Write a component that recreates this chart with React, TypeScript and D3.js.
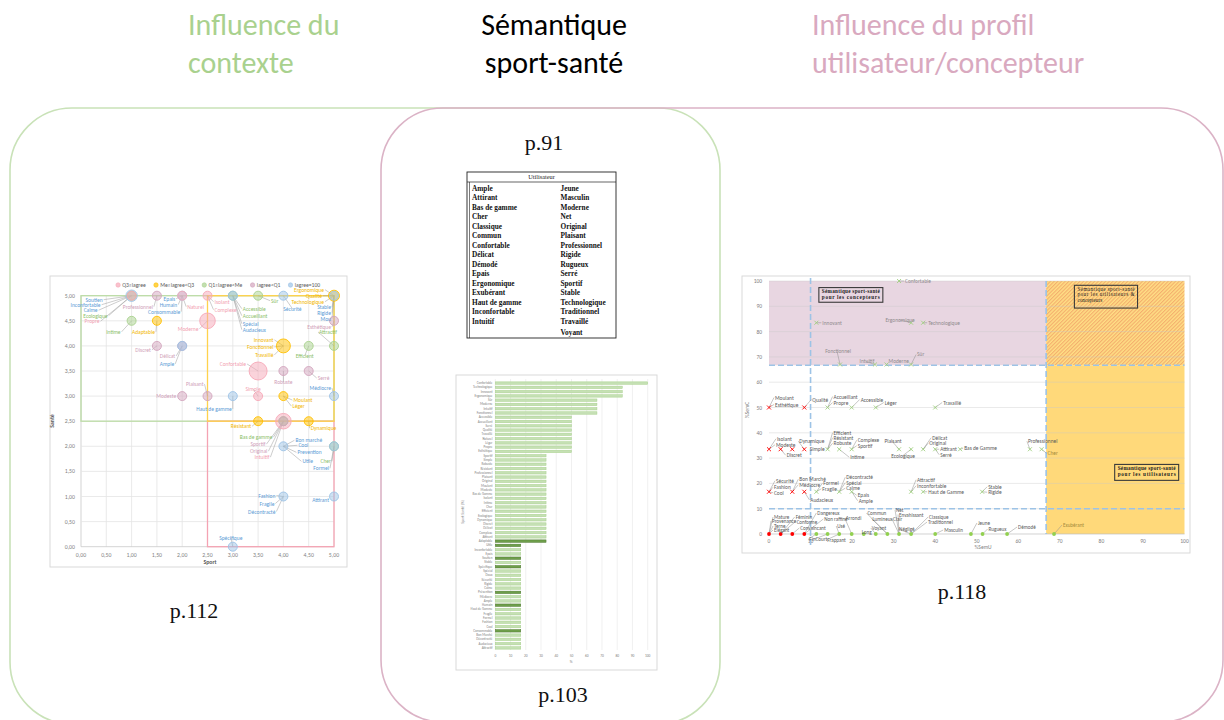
import React, { useEffect, useRef } from "react";
import * as d3 from "d3";

// ---- p.112 : nuage Sport / Santé (influence du contexte)
const classes = ["Q3≤lagree", "Me≤lagree<Q3", "Q1≤lagree<Me", "lagree<Q1", "lagree=100"];
const classColors = ["#f6a8b8", "#ffc000", "#a9d18e", "#d3a5bd", "#9dc3e6"];
const classText = ["#f29fb1", "#f2b600", "#8cc06a", "#d0a0b8", "#5b9bd5"];

// [mot, sport, santé, classe]
const scatterWords = [
  ["Soutien", 1, 5, 4], ["Inconfortable", 1, 5, 4], ["Calme", 1, 5, 4], ["Ecologique", 1, 5, 2], ["Propre", 1, 5, 0],
  ["Professionnel", 1.5, 5, 3],
  ["Epais", 2, 5, 4], ["Humain", 2, 5, 4], ["Consommable", 2, 5, 4], ["Naturel", 2, 5, 0],
  ["Isolant", 2.5, 5, 0], ["Complexe", 2.5, 5, 0],
  ["Accessible", 3, 5, 2], ["Accueillant", 3, 5, 2], ["Spécial", 3, 5, 4], ["Audacieux", 3, 5, 4],
  ["Sûr", 3.5, 5, 2], ["Sécurité", 4, 5, 4],
  ["Ergonomique", 5, 5, 1], ["Qualité", 5, 5, 1], ["Technologique", 5, 5, 1],
  ["Stable", 5, 5, 4], ["Rigide", 5, 5, 4], ["Mou", 5, 5, 4],
  ["Intime", 1, 4.5, 2], ["Adaptable", 1.5, 4.5, 1], ["Moderne", 2.5, 4.5, 0],
  ["Esthétique", 5, 4.5, 3], ["Attractif", 5, 4, 2],
  ["Discret", 1.5, 4, 3], ["Délicat", 2, 4, 3], ["Ample", 2, 4, 4],
  ["Innovant", 4, 4, 1], ["Fonctionnel", 4, 4, 1], ["Travaillé", 4, 4, 1], ["Efficient", 4.5, 4, 2],
  ["Confortable", 3.5, 3.5, 0], ["Robuste", 4, 3.5, 3], ["Serré", 4.5, 3.5, 3],
  ["Modeste", 2, 3, 3], ["Plaisant", 2.5, 3, 3], ["Haut de gamme", 3, 3, 4], ["Simple", 3.5, 3, 0],
  ["Moulant", 4, 3, 1], ["Léger", 4, 3, 1], ["Médiocre", 5, 3, 4],
  ["Résistant", 3.5, 2.5, 1], ["Bas de gamme", 4, 2.5, 2], ["Sportif", 4, 2.5, 3], ["Original", 4, 2.5, 3],
  ["Intuitif", 4, 2.5, 0], ["Dynamique", 4.5, 2.5, 1],
  ["Bon marché", 4, 2, 4], ["Cool", 4, 2, 4], ["Prevention", 4, 2, 4], ["Utile", 4, 2, 4],
  ["Cher", 5, 2, 2], ["Formel", 5, 2, 4],
  ["Fashion", 4, 1, 4], ["Fragile", 4, 1, 4], ["Décontracté", 4, 1, 4], ["Attirant", 5, 1, 4],
  ["Spécifique", 3, 0, 4],
];

// bulles plus grosses que 1 : [sport, santé, classe, poids]
const bigBubbles = [
  [1, 5, 4, 1.6], [2.5, 4.5, 0, 3], [3.5, 3.5, 0, 4], [4, 2.5, 0, 3], [4, 4, 1, 2.4], [5, 5, 1, 1.5],
];

// placement des étiquettes (px depuis le centre de la bulle)
const scatterLabelPos = {
  Soutien: [-29, 4], Inconfortable: [-31, 9], Calme: [-34, 14.5], Ecologique: [-24, 20], Propre: [-32, 25.5],
  Professionnel: [-4, 11], Epais: [-7, 3], Humain: [-5, 9], Consommable: [-2, 16], Naturel: [5, 11],
  Isolant: [7, 6], Complexe: [7, 14], Accessible: [10, 13], Accueillant: [10, 20], Spécial: [10, 28], Audacieux: [10, 34],
  Sûr: [13, 5], Sécurité: [9, 13, "middle"], Ergonomique: [-10, -6], Qualité: [-12, 0], Technologique: [-10, 6],
  Stable: [-3, 11.5], Rigide: [-3, 17], Mou: [-3, 23], Intime: [-11, 11], Adaptable: [-2, 11], Moderne: [-9, 8],
  Esthétique: [-3, 6], Attractif: [-15, -14, "start"], Discret: [-6, 4], Délicat: [-7, 10], Ample: [-8, 18],
  Innovant: [-10, -6], Fonctionnel: [-10, 1], Travaillé: [-10, 9], Efficient: [-4, 10, "middle"],
  Confortable: [-12, -7], Robuste: [0, 11, "middle"], Serré: [9, 7], Modeste: [-6, 0], Plaisant: [-4, -12],
  "Haut de gamme": [-1, 13], Simple: [-5, -7, "middle"], Moulant: [10, 4], Léger: [9, 10], Médiocre: [-3, -8],
  Résistant: [-7, 5], "Bas de gamme": [-11, 16], Sportif: [-18, 23], Original: [-16, 30], Intuitif: [-14, 36],
  Dynamique: [2, 7], "Bon marché": [12, -6], Cool: [15, -1], Prevention: [14, 6], Utile: [19, 15],
  Cher: [-3, 15], Formel: [-5, 22], Fashion: [-8, -1], Fragile: [-9, 7], Décontracté: [-8, 15], Attirant: [-5, 3],
  Spécifique: [-2, -9, "middle"],
};

// ---- p.91 : tableau Utilisateur
const tableLeft = ["Ample", "Attirant", "Bas de gamme", "Cher", "Classique", "Commun", "Confortable", "Délicat",
  "Démodé", "Epais", "Ergonomique", "Exubérant", "Haut de gamme", "Inconfortable", "Intuitif"];
const tableRight = ["Jeune", "Masculin", "Moderne", "Net", "Original", "Plaisant", "Professionnel", "Rigide",
  "Rugueux", "Serré", "Sportif", "Stable", "Technologique", "Traditionnel", "Travaillé", "Voyant"];

// ---- p.103 : Sport Santé (%)
const barWords = ["Confortable", "Technologique", "Innovant", "Ergonomique", "Sûr", "Moderne", "Intuitif", "Fonctionnel",
  "Accessible", "Accueillant", "Serré", "Qualité", "Travaillé", "Naturel", "Léger", "Propre", "Esthétique",
  "Sportif", "Simple", "Robuste", "Résistant", "Professionnel", "Plaisant", "Original", "Moulant", "Modeste",
  "Bas de Gamme", "Isolant", "Intime", "Cher", "Efficient", "Ecologique", "Dynamique", "Discret", "Délicat",
  "Complexe", "Attirant", "Adaptable", "Utile", "Inconfortable", "Epais", "Soutien", "Stable", "Spécifique",
  "Spécial", "Doux", "Sécurité", "Rigide", "Calme", "Prévention", "Médiocre", "Ample", "Humain", "Haut de Gamme",
  "Fragile", "Formel", "Fashion", "Cool", "Consommable", "Bon Marché", "Décontracté", "Audacieux", "Attractif"];
const barValues = [100, 83.3, 83.3, 83.3, 66.7, 66.7, 66.7, 66.7,
  50, 50, 50, 50, 50, 50, 50, 50, 50,
  33.3, 33.3, 33.3, 33.3, 33.3, 33.3, 33.3, 33.3, 33.3, 33.3, 33.3, 33.3, 33.3, 33.3, 33.3, 33.3, 33.3, 33.3, 33.3, 33.3, 33.3,
  16.7, 16.7, 16.7, 16.7, 16.7, 16.7, 16.7, 16.7, 16.7, 16.7, 16.7, 16.7, 16.7, 16.7, 16.7, 16.7, 16.7,
  16.7, 16.7, 16.7, 16.7, 16.7, 16.7, 16.7, 16.7];
const barHighlight = ["Adaptable", "Utile", "Soutien", "Spécifique", "Prévention", "Humain", "Consommable"];

// ---- p.118 : %SemU / %SemC
// [%SemU, %SemC, mots...]
const semPoints = [
  [31.3, 100, "Confortable"],
  [11.4, 83.5, "Innovant"], [34.2, 83.5, "Ergonomique"], [37.1, 83.5, "Technologique"],
  [17.1, 67, "Fonctionnel"], [25.5, 67, "Intuitif"], [28.3, 67, "Moderne"], [34.2, 67, "Sûr"],
  [0, 50, "Moulant", "Esthétique"], [8.5, 50, "Qualité"], [14.1, 50, "Accueillant", "Propre"],
  [19.9, 50, "Accessible"], [25.7, 50, "Léger"], [40, 50, "Travaillé"],
  [0, 33.5, "Isolant", "Modeste"], [2.8, 33.5, "Discret"], [5.6, 33.5], [8.5, 33.5, "Dynamique"],
  [14.1, 33.5, "Efficient", "Résistant", "Robuste", "Simple"], [16.9, 33.5, "Intime"],
  [19.9, 33.5, "Complexe", "Sportif"], [31.3, 33.5, "Plaisant"], [34.2, 33.5, "Ecologique"],
  [37.1, 33.5, "Délicat", "Original"], [40, 33.5, "Attirant", "Serré"], [46, 33.5, "Bas de Gamme"],
  [62.8, 33.5, "Professionnel"], [65.6, 33.5, "Cher"],
  [0, 16.7, "Sécurité", "Fashion", "Cool"], [5.6, 16.7, "Bon Marché", "Médiocre"], [8.5, 16.7, "Audacieux"],
  [11.4, 16.7, "Formel", "Fragile"], [16.9, 16.7, "Décontracté", "Spécial", "Calme"], [19.9, 16.7, "Epais", "Ample"],
  [34.2, 16.7, "Attractif", "Inconfortable"], [37.1, 16.7, "Haut de Gamme"], [51.3, 16.7, "Stable", "Rigide"],
  [0, 0, "Mature", "Provenance", "Terne", "Elégant"], [2.8, 0, "Féminin", "Conforme"], [5.6, 0, "Convaincant"],
  [8.5, 0, "Dangereux", "Non raffiné"], [11.4, 0, "Fin"], [14.1, 0, "Court"], [16.9, 0, "Frappant", "Usé"],
  [19.9, 0, "Arrondi"], [22.8, 0, "Long"], [25.7, 0, "Voyant"], [28.5, 0, "Commun", "Lumineux"],
  [31.3, 0, "Net", "Envahissant", "Clair"], [34.2, 0, "Négligé", "Classique", "Traditionnel"], [40, 0, "Masculin"],
  [48.6, 0, "Jeune"], [51.4, 0, "Rugueux"], [57.3, 0, "Démodé"], [68.6, 0, "Exubérant"],
];
const semLabelPos = {
  Confortable: [6, 0], Innovant: [6, 0], Ergonomique: [-11, -3, "middle"], Technologique: [5, 0],
  Fonctionnel: [-2, -13, "middle"], Intuitif: [-8, -3, "middle"], Moderne: [2, -3], Sûr: [6, -10],
  Moulant: [6, -10], Esthétique: [6, -3], Qualité: [8, -8], Accueillant: [6, -11], Propre: [6, -5],
  Accessible: [9, -8], Léger: [9, -5], Travaillé: [8, -5],
  Isolant: [8, -10.5], Modeste: [7, -4.5], Discret: [6, 6], Dynamique: [-5, -8], Efficient: [6, -16.5], Résistant: [6, -11.5],
  Robuste: [6, -6], Simple: [-3, 0, "end"], Intime: [11, 8], Complexe: [6, -9], Sportif: [6, -3.5],
  Plaisant: [-6, -8, "middle"], Ecologique: [-8, 7, "middle"], Délicat: [9, -11.5], Original: [6, -6],
  Attirant: [5, 0], Serré: [5, 5.5], "Bas de Gamme": [4, -1], Professionnel: [-2, -8], Cher: [6, 4],
  Sécurité: [7, -11], Fashion: [5, -4.5], Cool: [5, 1], "Bon Marché": [7, -12.5], Médiocre: [7, -7], Audacieux: [6, 8],
  Formel: [7, -8.5], Fragile: [6, -3], Décontracté: [7, -14.5], Spécial: [7, -9], Calme: [7, -3.5], Epais: [6, 3.5],
  Ample: [7, 9], Attractif: [6, -12], Inconfortable: [6, -6], "Haut de Gamme": [5, 0], Stable: [6, -5], Rigide: [6, 0.5],
  Mature: [5, -17], Provenance: [3, -13], Terne: [5, -8], Elégant: [5, -4], Féminin: [15, -17], Conforme: [16, -12.5],
  Convaincant: [8, -6], Dangereux: [13, -21], "Non raffiné": [20, -15], Fin: [-7, 5], Court: [-12, 5],
  Frappant: [-12, 6], Usé: [-2, -8], Arrondi: [-6, -16], Long: [-2, -2], Voyant: [-4, -6], Commun: [-20, -21],
  Lumineux: [-15, -15.5], Net: [-3, -24], Envahissant: [0, -19.5], Clair: [-6, -15], Négligé: [-12, -5],
  Classique: [18, -17], Traditionnel: [17, -12], Masculin: [9, -4], Jeune: [7, -11], Rugueux: [6, -5],
  Démodé: [11, -7], Exubérant: [9, -9],
};
const semZone = 66.7;
const semThreshold = 10;
const semBoxes = [
  { lines: ["Sémantique  sport-santé", "pour les concepteurs"], u: [12, 27.4], c: [97.4, 91.6], bold: true },
  { lines: ["Sémantique  sport-santé", "pour  les  utilisateurs  &", "concepteurs"], u: [73.5, 88.7], c: [98.3, 89.3], bold: false },
  { lines: ["Sémantique  sport-santé", "pour les utilisateurs"], u: [83.2, 98.6], c: [27.5, 21.2], bold: true },
];

const FONT = "Carlito, Lato, 'Open Sans', sans-serif";
const SERIF = "'Liberation Serif', 'DejaVu Serif', serif";

function drawScatter(g) {
  const x = d3.scaleLinear().domain([0, 5]).range([81, 334]);
  const y = d3.scaleLinear().domain([0, 5]).range([546.7, 295.7]);
  const fmt = (d) => d3.format(".2f")(d).replace(".", ",");

  g.append("rect").attr("x", 50).attr("y", 276).attr("width", 297).attr("height", 291)
    .attr("fill", "#fff").attr("stroke", "#d9d9d9");

  g.selectAll(".vg").data(x.ticks(10)).join("line").attr("class", "vg")
    .attr("x1", (d) => x(d)).attr("x2", (d) => x(d)).attr("y1", y(5)).attr("y2", y(0))
    .attr("stroke", (d) => (d === 0 ? "#c8c8c8" : "#e4e4e4")).attr("stroke-width", 0.8);
  g.selectAll(".hg").data(y.ticks(10)).join("line").attr("class", "hg")
    .attr("x1", x(0)).attr("x2", x(5)).attr("y1", (d) => y(d)).attr("y2", (d) => y(d))
    .attr("stroke", (d) => (d === 0 ? "#c8c8c8" : "#e4e4e4")).attr("stroke-width", 0.8);

  g.selectAll(".xt").data(x.ticks(10)).join("text").attr("class", "xt")
    .attr("x", (d) => x(d)).attr("y", 557).attr("text-anchor", "middle")
    .attr("font-size", 5.8).attr("font-family", FONT).attr("fill", "#7f7f7f").text(fmt);
  g.selectAll(".yt").data(y.ticks(10)).join("text").attr("class", "yt")
    .attr("x", 75).attr("y", (d) => y(d) + 2).attr("text-anchor", "end")
    .attr("font-size", 5.8).attr("font-family", FONT).attr("fill", "#7f7f7f").text(fmt);
  g.append("text").attr("x", 210).attr("y", 564).attr("text-anchor", "middle").attr("font-size", 5.8)
    .attr("font-weight", "bold").attr("font-family", FONT).attr("fill", "#595959").text("Sport");
  g.append("text").attr("transform", "translate(54,421) rotate(-90)").attr("text-anchor", "middle")
    .attr("font-size", 5.8).attr("font-weight", "bold").attr("font-family", FONT).attr("fill", "#595959").text("Santé");

  // zones
  const zone = (x0, x1, y0, y1, c) => g.append("rect").attr("x", x(x0)).attr("y", y(y1))
    .attr("width", x(x1) - x(x0)).attr("height", y(y0) - y(y1)).attr("fill", "none")
    .attr("stroke", c).attr("stroke-width", 1.3);
  zone(0, 5, 2.5, 5, "#bcdca6");
  zone(2.5, 5, 0, 2.5, "#f4a3b3");
  zone(2.5, 5, 2.5, 5, "#ffd24d");

  // bulles
  const r = d3.scaleSqrt().domain([0, 4]).range([0, 9]);
  const key = (s, h, c) => `${s}|${h}|${c}`;
  const weights = new Map(bigBubbles.map((b) => [key(b[0], b[1], b[2]), b[3]]));
  const bub = [];
  const seen = new Set();
  scatterWords.forEach(([, s, h, c]) => {
    const k = key(s, h, c);
    if (!seen.has(k)) { seen.add(k); bub.push({ s, h, c, w: weights.get(k) || 1 }); }
  });
  bub.sort((a, b) => b.w - a.w);
  const rOf = new Map(bub.map((b) => [key(b.s, b.h, b.c), r(b.w)]));

  // traits de rappel
  scatterWords.forEach(([wd, s, h, c]) => {
    const p = scatterLabelPos[wd];
    const cx = x(s), cy = y(h);
    const lx = cx + p[0], ly = cy + p[1];
    if (Math.hypot(p[0], p[1]) > rOf.get(key(s, h, c)) + 2) {
      const sx = p[2] === "middle" ? 0 : (p[0] < 0 && p[2] !== "start" ? 1 : -1);
      g.append("line").attr("x1", cx).attr("y1", cy).attr("x2", lx + sx).attr("y2", ly)
        .attr("stroke", "#9a9a9a").attr("stroke-width", 0.5);
    }
  });

  g.selectAll(".bub").data(bub).join("circle").attr("class", "bub")
    .attr("cx", (d) => x(d.s)).attr("cy", (d) => y(d.h)).attr("r", (d) => r(d.w))
    .attr("fill", (d) => classColors[d.c]).attr("fill-opacity", 0.5)
    .attr("stroke", (d) => classColors[d.c]).attr("stroke-width", 0.9);

  g.selectAll(".lab").data(scatterWords).join("text").attr("class", "lab")
    .attr("x", (d) => x(d[1]) + scatterLabelPos[d[0]][0])
    .attr("y", (d) => y(d[2]) + scatterLabelPos[d[0]][1])
    .attr("dominant-baseline", "central")
    .attr("text-anchor", (d) => scatterLabelPos[d[0]][2] || (scatterLabelPos[d[0]][0] < 0 ? "end" : "start"))
    .attr("font-size", 5.5).attr("font-family", FONT).attr("fill", (d) => classText[d[3]])
    .text((d) => d[0]);

  // légende
  const lg = g.append("g");
  let lx = 0;
  classes.forEach((c, i) => {
    lg.append("circle").attr("cx", lx + 2.2).attr("cy", 0).attr("r", 2.2)
      .attr("fill", classColors[i]).attr("fill-opacity", 0.7).attr("stroke", classColors[i]).attr("stroke-width", 0.6);
    const t = lg.append("text").attr("x", lx + 6.5).attr("y", 0).attr("dominant-baseline", "central")
      .attr("font-size", 5.6).attr("font-family", FONT).attr("fill", "#595959").text(c);
    lx += 6.5 + t.node().getComputedTextLength() + 8;
  });
  lg.attr("transform", `translate(${218 - (lx - 8) / 2},285)`);
}

function drawTable(g) {
  const x0 = 467, x1 = 616, y0 = 172, y1 = 338;
  g.append("rect").attr("x", x0).attr("y", y0).attr("width", x1 - x0).attr("height", y1 - y0)
    .attr("fill", "#fff").attr("stroke", "#222").attr("stroke-width", 0.9);
  g.append("line").attr("x1", x0 + 2.5).attr("x2", x0 + 2.5).attr("y1", y0 + 10).attr("y2", y1)
    .attr("stroke", "#222").attr("stroke-width", 0.6);
  g.append("line").attr("x1", x0).attr("x2", x1).attr("y1", 182).attr("y2", 182)
    .attr("stroke", "#222").attr("stroke-width", 0.7);
  g.append("text").attr("x", (x0 + x1) / 2).attr("y", 178.5).attr("text-anchor", "middle")
    .attr("font-size", 6.3).attr("font-family", SERIF).attr("fill", "#222").text("Utilisateur");
  const ry = d3.scaleLinear().domain([0, 14]).range([188.3, 321]);
  const put = (arr, x) => g.selectAll(null).data(arr).join("text")
    .attr("x", x).attr("y", (d, i) => ry(i) + (i === 15 ? 1.8 : 0)).attr("dominant-baseline", "central")
    .attr("font-size", 7.3).attr("font-weight", "bold").attr("font-family", SERIF).attr("fill", "#111")
    .text((d) => d);
  put(tableLeft, 472);
  put(tableRight, 560.5);
}

function drawBars(g) {
  g.append("rect").attr("x", 456).attr("y", 375).attr("width", 201).attr("height", 295)
    .attr("fill", "#fff").attr("stroke", "#d9d9d9");
  const x = d3.scaleLinear().domain([0, 100]).range([495.3, 647.7]);
  const y = d3.scaleBand().domain(barWords).range([381, 650]).paddingInner(0.42).paddingOuter(0.2);
  g.selectAll(".bg").data(x.ticks(10)).join("line").attr("class", "bg")
    .attr("x1", (d) => x(d)).attr("x2", (d) => x(d)).attr("y1", 379).attr("y2", 650)
    .attr("stroke", "#e6e6e6").attr("stroke-width", 0.6);
  g.selectAll(".bar").data(barWords).join("rect").attr("class", "bar")
    .attr("x", x(0)).attr("y", (d) => y(d)).attr("height", y.bandwidth())
    .attr("width", (d, i) => x(barValues[i]) - x(0))
    .attr("fill", (d) => (barHighlight.includes(d) ? "#6e9e4b" : "#c5e0b4"))
    .attr("stroke", (d) => (barHighlight.includes(d) ? "#4e7a30" : "#a9d18e")).attr("stroke-width", 0.5);
  g.selectAll(".bl").data(barWords).join("text").attr("class", "bl")
    .attr("x", 492.5).attr("y", (d) => y(d) + y.bandwidth() / 2).attr("dominant-baseline", "central")
    .attr("text-anchor", "end").attr("font-size", 3.3).attr("font-family", FONT).attr("fill", "#7f7f7f")
    .text((d) => d);
  g.selectAll(".bt").data(x.ticks(10)).join("text").attr("class", "bt")
    .attr("x", (d) => x(d)).attr("y", 656.5).attr("text-anchor", "middle").attr("font-size", 3.6)
    .attr("font-family", FONT).attr("fill", "#7f7f7f").text((d) => d);
  g.append("text").attr("x", 571).attr("y", 663).attr("text-anchor", "middle").attr("font-size", 3.8)
    .attr("font-family", FONT).attr("fill", "#7f7f7f").text("%");
  g.append("text").attr("transform", "translate(463.5,512) rotate(-90)").attr("text-anchor", "middle")
    .attr("font-size", 3.8).attr("font-family", FONT).attr("fill", "#7f7f7f").text("Sport Santé (%)");
}

function drawSem(g) {
  g.append("rect").attr("x", 742).attr("y", 276).attr("width", 448).attr("height", 277)
    .attr("fill", "#fff").attr("stroke", "#d9d9d9");
  const x = d3.scaleLinear().domain([0, 100]).range([769, 1184.5]);
  const y = d3.scaleLinear().domain([0, 100]).range([534, 281]);

  g.append("rect").attr("x", x(0)).attr("y", y(100)).attr("width", x(semZone) - x(0))
    .attr("height", y(semZone) - y(100)).attr("fill", "#e8d6e1");
  g.append("rect").attr("x", x(semZone)).attr("y", y(100)).attr("width", x(100) - x(semZone))
    .attr("height", y(semZone) - y(100)).attr("fill", "url(#hatch)");
  g.append("rect").attr("x", x(semZone)).attr("y", y(semZone)).attr("width", x(100) - x(semZone))
    .attr("height", y(0) - y(semZone)).attr("fill", "#ffd97a");

  g.selectAll(".sg").data(y.ticks(10)).join("line").attr("class", "sg")
    .attr("x1", x(0)).attr("x2", x(100)).attr("y1", (d) => y(d)).attr("y2", (d) => y(d))
    .attr("stroke", (d) => (d === 0 ? "#bfbfbf" : "#c9c9c9")).attr("stroke-opacity", (d) => (d === 0 ? 1 : 0.55))
    .attr("stroke-width", 0.7);
  g.selectAll(".syt").data(y.ticks(10)).join("text").attr("class", "syt")
    .attr("x", 762).attr("y", (d) => y(d) + 2).attr("text-anchor", "end").attr("font-size", 5.5)
    .attr("font-family", FONT).attr("fill", "#7f7f7f").text((d) => d);
  g.selectAll(".sxt").data(x.ticks(10)).join("text").attr("class", "sxt")
    .attr("x", (d) => x(d)).attr("y", 542.5).attr("text-anchor", "middle").attr("font-size", 5.5)
    .attr("font-family", FONT).attr("fill", "#7f7f7f").text((d) => d);
  g.append("text").attr("x", 983).attr("y", 549).attr("text-anchor", "middle").attr("font-size", 5.5)
    .attr("font-family", FONT).attr("fill", "#7f7f7f").text("%SemU");
  g.append("text").attr("transform", "translate(749,410) rotate(-90)").attr("text-anchor", "middle")
    .attr("font-size", 5.5).attr("font-family", FONT).attr("fill", "#7f7f7f").text("%SemC");

  const dash = (x1, y1, x2, y2) => g.append("line").attr("x1", x1).attr("y1", y1).attr("x2", x2).attr("y2", y2)
    .attr("stroke", "#9dc3e6").attr("stroke-width", 1.6).attr("stroke-dasharray", "6,3");
  dash(x(0), y(semZone), x(100), y(semZone));
  dash(x(0), y(semThreshold), x(100), y(semThreshold));
  dash(x(semThreshold), y(100) - 3, x(semThreshold), y(0) + 11);
  dash(x(semZone), y(100), x(semZone), y(0));

  // annotations
  semBoxes.forEach((b) => {
    const bx = x(b.u[0]), by = y(b.c[0]), bw = x(b.u[1]) - bx, bh = y(b.c[1]) - by;
    g.append("rect").attr("x", bx).attr("y", by).attr("width", bw).attr("height", bh)
      .attr("fill", "none").attr("stroke", "#3a3a3a").attr("stroke-width", 1.1);
    b.lines.forEach((l, i) => {
      g.append("text").attr("x", bx + 3).attr("y", by + 5.5 + i * 5.6).attr("font-size", 5.2)
        .attr("font-weight", b.bold ? "bold" : "normal").attr("font-family", SERIF).attr("fill", "#222")
        .attr("textLength", i === b.lines.length - 1 && !b.bold && i > 1 ? null : bw - 6)
        .attr("lengthAdjust", "spacing").text(l);
    });
  });

  // points
  const isC = (d) => d[0] < semThreshold;
  semPoints.forEach((d) => {
    const px = x(d[0]), py = y(d[1]);
    d.slice(2).forEach((wd) => {
      const p = semLabelPos[wd];
      if (Math.hypot(p[0], p[1]) > 4) {
        g.append("line").attr("x1", px).attr("y1", py).attr("x2", px + p[0] - 1).attr("y2", py + p[1])
          .attr("stroke", "#8c8c8c").attr("stroke-width", 0.5);
      }
    });
  });
  const cross = d3.symbol().type(d3.symbolX).size(12);
  g.selectAll(".mk").data(semPoints.filter((d) => d[1] > 0)).join("path").attr("class", "mk")
    .attr("transform", (d) => `translate(${x(d[0])},${y(d[1])})`).attr("d", cross)
    .attr("fill", "none").attr("stroke", (d) => (isC(d) ? "#ff0000" : "#9fcf7f")).attr("stroke-width", 0.9);
  g.selectAll(".dt").data(semPoints.filter((d) => d[1] === 0)).join("circle").attr("class", "dt")
    .attr("cx", (d) => x(d[0])).attr("cy", (d) => y(d[1])).attr("r", 1.9)
    .attr("fill", (d) => (isC(d) ? "#ff0000" : "#92d050"));
  semPoints.forEach((d) => {
    const px = x(d[0]), py = y(d[1]);
    d.slice(2).forEach((wd) => {
      const p = semLabelPos[wd];
      g.append("text").attr("x", px + p[0]).attr("y", py + p[1]).attr("dominant-baseline", "central")
        .attr("text-anchor", p[2] || "start").attr("font-size", d[1] === 0 ? 5.1 : 5.4).attr("font-family", FONT)
        .attr("fill", d[0] > semZone - 2 ? "#a58a3c" : d[1] > semZone - 1 ? "#8f8a8d" : "#595959").text(wd);
    });
  });
}

export default function App() {
  const svgRef = useRef(null);

  useEffect(() => {
    const svg = d3.select(svgRef.current);
    svg.selectAll("*").remove();

    const hatch = svg.append("defs").append("pattern").attr("id", "hatch")
      .attr("patternUnits", "userSpaceOnUse").attr("width", 2.6).attr("height", 2.6)
      .attr("patternTransform", "rotate(45)");
    hatch.append("rect").attr("width", 2.6).attr("height", 2.6).attr("fill", "#ffdf85");
    hatch.append("line").attr("x1", 0.6).attr("x2", 0.6).attr("y1", 0).attr("y2", 2.6)
      .attr("stroke", "#f3a86a").attr("stroke-width", 1);

    // cadres arrondis
    svg.append("rect").attr("x", 10).attr("y", 108).attr("width", 710).attr("height", 616).attr("rx", 62)
      .attr("fill", "none").attr("stroke", "#c9e2b8").attr("stroke-width", 1.6);
    svg.append("rect").attr("x", 381).attr("y", 108).attr("width", 842).attr("height", 614).attr("rx", 62)
      .attr("fill", "none").attr("stroke", "#dbb3c6").attr("stroke-width", 1.6);

    // titres
    const title = (lines, x, anchor, color) => lines.forEach((l, i) =>
      svg.append("text").attr("x", x).attr("y", 35 + i * 38).attr("text-anchor", anchor)
        .attr("font-size", 30).attr("font-family", FONT).attr("fill", color).text(l));
    title(["Influence du", "contexte"], 188, "start", "#a9d18e");
    title(["Sémantique", "sport-santé"], 554, "middle", "#000");
    title(["Influence du profil", "utilisateur/concepteur"], 812, "start", "#d9a9bf");

    const page = (t, x, y) => svg.append("text").attr("x", x).attr("y", y).attr("text-anchor", "middle")
      .attr("font-size", 22).attr("font-family", SERIF).attr("fill", "#111").text(t);
    page("p.91", 544, 150);
    page("p.112", 194, 618);
    page("p.103", 563, 702);
    page("p.118", 962, 599);

    drawScatter(svg.append("g"));
    drawTable(svg.append("g"));
    drawBars(svg.append("g"));
    drawSem(svg.append("g"));
  }, []);

  return (
    <div style={{ position: "absolute", left: 0, top: 0 }}>
      <svg ref={svgRef} width={1224} height={720} style={{ display: "block", background: "#fff" }}></svg>
    </div>
  );
}
